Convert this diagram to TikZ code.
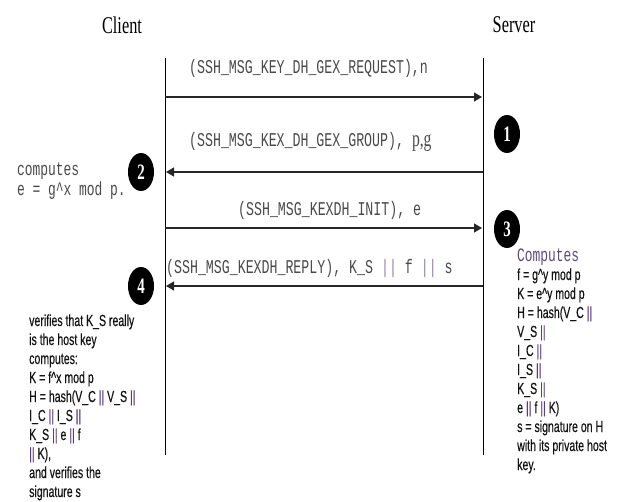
\documentclass[tikz,border=0pt]{standalone}
\usepackage{fontspec}
\usetikzlibrary{arrows.meta,shapes.geometric}
\setmainfont{Liberation Serif}
\newfontfamily\headfont[FakeStretch=0.68]{Liberation Serif}
\newfontfamily\msgfont[FakeStretch=0.68]{Liberation Mono}
\newfontfamily\notefont[FakeStretch=0.66,FakeBold=0.4]{Liberation Sans}
\definecolor{msggray}{HTML}{4A4A4A}
\definecolor{barpurple}{HTML}{5A3D78}
\definecolor{cmdpurple}{HTML}{5E4B7C}
\newcommand{\bars}{\textcolor{barpurple}{||}}
\newcommand{\lightbars}{\textcolor{barpurple!65}{||}}
\tikzset{
  lifeline/.style={draw=black, line width=0.8pt},
  msgarrow/.style={draw=black!85, line width=1.2pt, -{Triangle[length=8pt,width=9pt]}, shorten >=1pt},
  msglabel/.style={font=\msgfont\fontsize{19.5}{20}\selectfont, text=msggray, inner sep=0pt, anchor=west},
  badge/.style={ellipse, fill=black, minimum width=26pt, minimum height=38pt, inner sep=0pt,
    text=white, font=\headfont\bfseries\fontsize{22}{22}\selectfont},
  party/.style={font=\headfont\fontsize{24}{24}\selectfont, inner sep=0pt},
  note/.style={font=\notefont\fontsize{16}{19}\selectfont, align=left, inner sep=0pt, anchor=base west, text=black!92}
}
\begin{document}
\begin{tikzpicture}[x=1pt,y=-1pt]
  \useasboundingbox (0,0) rectangle (618,502);
  \fill[white] (0,0) rectangle (618,502);

  % participants
  \node[party] (client) at (122,25) {Client};
  \node[party] (server) at (514,25) {Server};

  % lifelines
  \coordinate (ctop) at (165,58);
  \coordinate (cbot) at (165,455);
  \coordinate (stop) at (483,58);
  \coordinate (sbot) at (483,455);
  \draw[lifeline] (ctop) -- (cbot);
  \draw[lifeline] (stop) -- (sbot);

  % message end points on the lifelines
  \coordinate (c1) at (165,97);   \coordinate (s1) at (483,97);
  \coordinate (c2) at (165,172);  \coordinate (s2) at (483,172);
  \coordinate (c3) at (165,228);  \coordinate (s3) at (483,228);
  \coordinate (c4) at (165,286);  \coordinate (s4) at (483,286);

  % messages
  \draw[msgarrow] (c1) -- (s1);
  \node[msglabel] (m1) at (189,68) {(SSH\_MSG\_KEY\_DH\_GEX\_REQUEST),n};

  \draw[msgarrow] (s2) -- (c2);
  \node[msglabel] (m2) at (189,142) {(SSH\_MSG\_KEX\_DH\_GEX\_GROUP), {\headfont\fontsize{23}{23}\selectfont p,g}};

  \draw[msgarrow] (c3) -- (s3);
  \node[msglabel] (m3) at (238,210) {(SSH\_MSG\_KEXDH\_INIT), e};

  \draw[msgarrow] (s4) -- (c4);
  \node[msglabel] (m4) at (166,268) {(SSH\_MSG\_KEXDH\_REPLY), K\_S \lightbars{} f \lightbars{} s};

  % step badges
  \node[badge] (b1) at (507,134) {1};
  \node[badge] (b2) at (141,172) {2};
  \node[badge] (b3) at (507,229) {3};
  \node[badge] (b4) at (141,286) {4};

  % client side computation after step 2
  \node[font=\msgfont\fontsize{19}{20}\selectfont, text=msggray, align=left, inner sep=0pt, anchor=base west]
    (cexp) at (17,196) {computes\\e = g\textasciicircum x mod p.};

  % server side computation
  \node[note] (snote) at (517,470) {%
    {\msgfont\fontsize{19}{19}\selectfont\color{cmdpurple}Computes}\\
    f = g\textasciicircum y mod p\\
    K = e\textasciicircum y mod p\\
    H = hash(V\_C \bars\\
    V\_S \bars\\
    I\_C \bars\\
    I\_S \bars\\
    K\_S \bars\\
    e \bars{} f \bars{} K)\\
    s = signature on H\\
    with its private host\\
    key.};

  % client side verification
  \node[note] (cnote) at (29,497) {%
    verifies that K\_S really\\
    is the host key\\
    computes:\\
    K = f\textasciicircum x mod p\\
    H = hash(V\_C \bars{} V\_S \bars\\
    I\_C \bars{} I\_S \bars\\
    K\_S \bars{} e \bars{} f\\
    \bars{} K),\\
    and verifies the\\
    signature s};
\end{tikzpicture}
\end{document}
